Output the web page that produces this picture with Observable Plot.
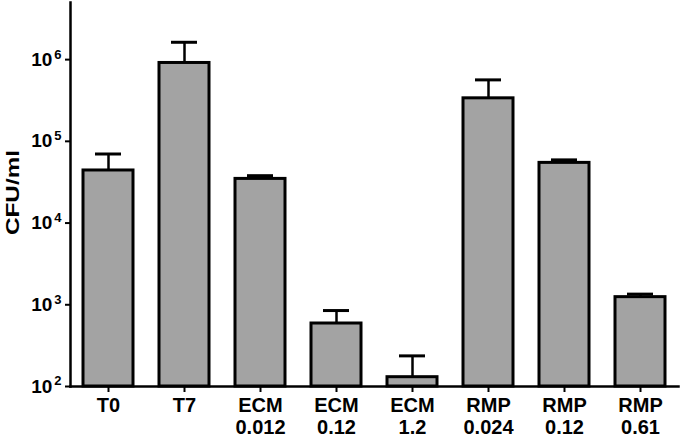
<!DOCTYPE html>
<html><head><meta charset="utf-8">
<script src="https://cdn.jsdelivr.net/npm/d3@7"></script>
<script src="https://cdn.jsdelivr.net/npm/@observablehq/plot@0.6"></script>
<style>body{margin:0;background:#fff} svg{display:block}</style>
</head><body><div id="chart"></div>
<script>
const groups = ["T0","T7","ECM 0.012","ECM 0.12","ECM 1.2","RMP 0.024","RMP 0.12","RMP 0.61"];
const means = [44000, 910000, 34700, 590, 130, 336000, 54500, 1240];
const upper = [70000, 1630000, 38000, 850, 237, 565000, 59300, 1350];
const yTicks = [1e2, 1e3, 1e4, 1e5, 1e6];
const yLabel = "CFU/ml";

const data = groups.map((g, i) => ({group: g, mean: means[i], upper: upper[i]}));
const font = "'Liberation Sans', Arial, sans-serif";

const plot = Plot.plot({
  width: 680, height: 442,
  marginLeft: 70, marginRight: 2, marginTop: 2, marginBottom: 56,
  style: {fontFamily: font, fontWeight: "bold", fontSize: "20px", color: "#000", background: "#fff"},
  x: {domain: groups, paddingInner: 0.34, paddingOuter: 0.17, label: null},
  y: {type: "log", domain: [1e2, 5e6], label: null},
  marks: [
    Plot.ruleX(data, {x: "group", y1: "mean", y2: "upper", strokeWidth: 2.5}),
    Plot.barY(data, {x: "group", y1: () => 100, y2: "mean", fill: "#a3a3a3", stroke: "#000", strokeWidth: 3}),
    Plot.tickY(data, {x: "group", y: "upper", strokeWidth: 3, insetLeft: 12, insetRight: 12}),
    Plot.axisY({ticks: yTicks, tickSize: 5, tickPadding: 4, tickFormat: () => "10", strokeWidth: 2}),
    Plot.axisX({tickSize: 6, tickPadding: 4, tickFormat: d => d.replace(" ", "\n"), lineHeight: 1.1, strokeWidth: 2}),
    Plot.frame({anchor: "left", strokeWidth: 2.5}),
    Plot.frame({anchor: "bottom", strokeWidth: 2.5})
  ]
});

document.getElementById("chart").appendChild(plot);

const svg = d3.select(plot);
svg.selectAll('g[aria-label="x-axis tick label"] text').style("font-size", "20px");
svg.selectAll('g[aria-label="y-axis tick label"] text').style("font-size", "19px");

// superscript exponents on y tick labels
svg.selectAll('g[aria-label="y-axis tick label"] text').each(function(_, i) {
  const exp = Math.round(Math.log10(yTicks[i]));
  d3.select(this).append("tspan")
    .style("font-size", "13px")
    .attr("dy", "-0.55em")
    .attr("dx", "2")
    .text(exp);
});

// y axis title
svg.append("text")
  .attr("transform", "translate(18.5,192.5) rotate(-90)")
  .attr("text-anchor", "middle")
  .attr("font-family", font)
  .attr("font-weight", "bold")
  .style("font-size", "19px")
  .attr("textLength", 85)
  .attr("lengthAdjust", "spacingAndGlyphs")
  .text(yLabel);
</script>
</body></html>
